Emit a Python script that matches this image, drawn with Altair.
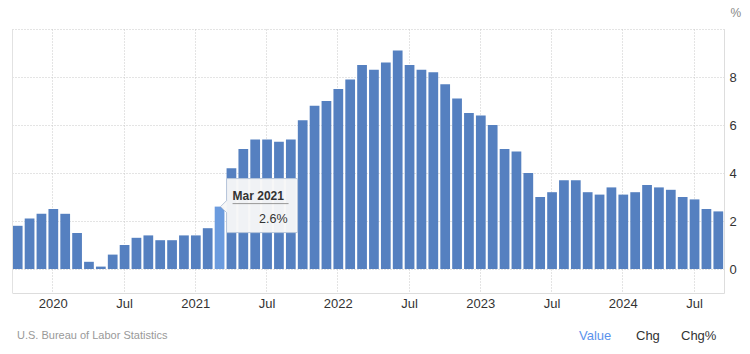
import altair as alt
import pandas as pd

# ---- data -------------------------------------------------------------
month_names = ["Jan", "Feb", "Mar", "Apr", "May", "Jun",
               "Jul", "Aug", "Sep", "Oct", "Nov", "Dec"]
months = []
labels = []
for y, m in [(2019, m) for m in range(10, 13)] + \
            [(yy, mm) for yy in range(2020, 2025) for mm in range(1, 13)]:
    if (y, m) > (2024, 9):
        continue
    months.append(f"{y}-{m:02d}")
    labels.append(f"{month_names[m-1]} {y}")

values = [1.8, 2.1, 2.3,
          2.5, 2.3, 1.5, 0.3, 0.1, 0.6, 1.0, 1.3, 1.4, 1.2, 1.2, 1.4,
          1.4, 1.7, 2.6, 4.2, 5.0, 5.4, 5.4, 5.3, 5.4, 6.2, 6.8, 7.0,
          7.5, 7.9, 8.5, 8.3, 8.6, 9.1, 8.5, 8.3, 8.2, 7.7, 7.1, 6.5,
          6.4, 6.0, 5.0, 4.9, 4.0, 3.0, 3.2, 3.7, 3.7, 3.2, 3.1, 3.4,
          3.1, 3.2, 3.5, 3.4, 3.3, 3.0, 2.9, 2.5, 2.4]

axis_months = ["2020-01", "2020-07", "2021-01", "2021-07", "2022-01",
               "2022-07", "2023-01", "2023-07", "2024-01", "2024-07"]
y_ticks = [0, 2, 4, 6, 8, 10]
tip_month = "2021-03"
source_text = "U.S. Bureau of Labor Statistics"
footer_items = ["Value", "Chg", "Chg%"]

df = pd.DataFrame({"date": months, "name": labels, "value": values})

FONT = "Liberation Sans"
BAR = "#5580c0"
BAR_HI = "#6b9bde"
GRID = "#c8c8c8"

x_enc = alt.X(
    "date:O", sort=None, title=None,
    scale=alt.Scale(paddingInner=0.18, paddingOuter=0.07),
    axis=alt.Axis(
        values=axis_months,
        labelExpr="substring(datum.value,5,7)=='01' ? substring(datum.value,0,4) : 'Jul'",
        labelAngle=0, labelFontSize=13, labelColor="#333333", labelFont=FONT,
        labelPadding=4, ticks=False, domainColor="#dddddd",
        grid=True, gridColor=GRID, gridDash=[1, 2], bandPosition=0.45,
    ),
)
y_enc = alt.Y(
    "value:Q", title="%",
    scale=alt.Scale(domain=[-1, 10], nice=False, zero=False),
    axis=alt.Axis(
        orient="right", values=y_ticks,
        labelExpr="datum.value == 10 ? '' : datum.label",
        labelFontSize=13, labelColor="#333333", labelFont=FONT,
        labelPadding=5, ticks=False, domainColor="#dddddd",
        grid=True, gridColor=GRID, gridDash=[1, 2],
        titleAngle=0, titleX=6, titleY=-17, titleAlign="left",
        titleBaseline="middle", titleColor="#888888", titleFontSize=12,
        titleFontWeight="normal", titleFont=FONT,
    ),
)

base = alt.Chart(df)

left_edge = alt.Chart(pd.DataFrame({"t": [0]})).mark_rule(
    color="#e2e2e2", strokeWidth=1
).encode(x=alt.value(0.5), y=alt.value(0), y2=alt.value(264))

bars = base.mark_bar().encode(
    x=x_enc, y=y_enc, y2=alt.datum(0),
    color=alt.condition(alt.datum.date == tip_month, alt.value(BAR_HI), alt.value(BAR)),
)

tip = base.transform_filter(alt.datum.date == tip_month)

box_path = ("M 0.07 -0.28 L 0.78 -0.28 L 0.78 0.26 L 0.07 0.26 "
            "L 0.07 0.06 L 0.01 0 L 0.07 -0.06 Z")
tip_box = tip.mark_point(
    shape=box_path, size=40000, filled=True, fill="#f7f7f7", fillOpacity=0.96,
    stroke="#b7c5da", strokeWidth=1, opacity=1,
).encode(x="date:O", y="value:Q")

tip_line = tip.mark_point(
    shape="M 0.13 -0.03 L 0.69 -0.03", size=40000, filled=False,
    stroke="#999999", strokeWidth=1, opacity=1,
).encode(x="date:O", y="value:Q")

tip_title = tip.mark_text(
    align="left", baseline="middle", dx=13, dy=-10.5, font=FONT,
    fontSize=12, fontWeight="bold", color="#333333",
).encode(x="date:O", y="value:Q", text="name:N")

tip_value = tip.transform_calculate(
    pct="format(datum.value, '.1f') + '%'"
).mark_text(
    align="right", baseline="middle", dx=68, dy=12.5, font=FONT,
    fontSize=12.5, color="#333333",
).encode(x="date:O", y="value:Q", text="pct:N")

src = alt.Chart(pd.DataFrame({"t": [source_text]})).mark_text(
    align="left", baseline="middle", font=FONT, fontSize=11, color="#999999",
).encode(x=alt.value(5), y=alt.value(306.5), text="t:N")

foot_colors = ["#5b93ec", "#333333", "#333333"]
foot_x = [567, 624, 669]
foot_layers = []
for item, col, fx in zip(footer_items, foot_colors, foot_x):
    foot_layers.append(
        alt.Chart(pd.DataFrame({"t": [item]})).mark_text(
            align="left", baseline="middle", font=FONT, fontSize=13, color=col,
        ).encode(x=alt.value(fx), y=alt.value(306.5), text="t:N")
    )

chart = alt.layer(bars, left_edge, tip_box, tip_line, tip_title, tip_value, src,
                  *foot_layers).properties(
    width=712, height=264,
    autosize=alt.AutoSizeParams(type="none"),
    padding={"left": 12, "top": 29, "right": 26, "bottom": 61},
    background="white",
).configure_view(strokeWidth=0)

chart.save("out.html", embed_options={"renderer": "svg", "actions": False})
